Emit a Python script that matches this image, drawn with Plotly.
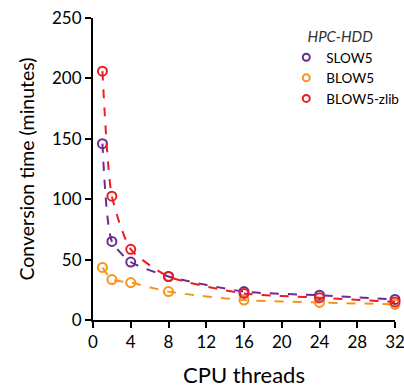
import plotly.graph_objects as go

threads = [1, 2, 4, 8, 16, 24, 32]
slow5 = [146, 65, 48, 36, 23.5, 20.5, 17]
blow5 = [43.5, 33.5, 31, 23.5, 16.5, 14.5, 13]
blow5_zlib = [206, 102.5, 58.5, 36, 22, 18.5, 15]

series = [
    ("SLOW5", slow5, "#6a2c91"),
    ("BLOW5", blow5, "#f7941d"),
    ("BLOW5-zlib", blow5_zlib, "#ed1c24"),
]

fig = go.Figure()
for name, vals, col in series:
    fig.add_trace(go.Scatter(
        x=threads, y=vals, name=name, mode="lines+markers", showlegend=False,
        line=dict(color=col, width=2, dash="dash", shape="spline", smoothing=0.6),
        marker=dict(symbol="circle-open", size=9, color=col, line=dict(width=2, color=col)),
        cliponaxis=False,
    ))
for name, vals, col in series:
    fig.add_trace(go.Scatter(
        x=[None], y=[None], name=name, mode="markers",
        marker=dict(symbol="circle-open", size=7, color=col, line=dict(width=2, color=col)),
    ))

fig.update_layout(
    width=404, height=388,
    margin=dict(l=93, r=9, t=18, b=68, autoexpand=False),
    plot_bgcolor="white", paper_bgcolor="white",
    font=dict(family="Lato, Open Sans, sans-serif", color="black", size=17),
    showlegend=True,
    legend=dict(
        x=0.64, y=0.985, xanchor="left", yanchor="top",
        title=dict(text="\u00a0\u00a0\u00a0\u00a0\u00a0<i>HPC-HDD</i>", font=dict(size=15, color="#333")),
        font=dict(size=13.5),
        itemwidth=30, tracegroupgap=0,
        bgcolor="rgba(0,0,0,0)",
    ),
    xaxis=dict(
        range=[0, 32], tickvals=[0, 4, 8, 12, 16, 20, 24, 28, 32],
        showline=True, linecolor="black", linewidth=2,
        ticks="outside", ticklen=6, tickwidth=2, tickcolor="black",
        showgrid=False, zeroline=False, automargin=False,
        ticklabeloverflow="allow",
        title=dict(text="CPU threads", font=dict(size=22), standoff=28),
    ),
    yaxis=dict(
        range=[0, 250], tickvals=[0, 50, 100, 150, 200, 250],
        showline=True, linecolor="black", linewidth=2,
        ticks="outside", ticklen=6, tickwidth=2, tickcolor="black",
        showgrid=False, zeroline=False, automargin=False,
        title=dict(text="Conversion time (minutes)", font=dict(size=19.5), standoff=12),
    ),
)

fig.write_html("out.html")
